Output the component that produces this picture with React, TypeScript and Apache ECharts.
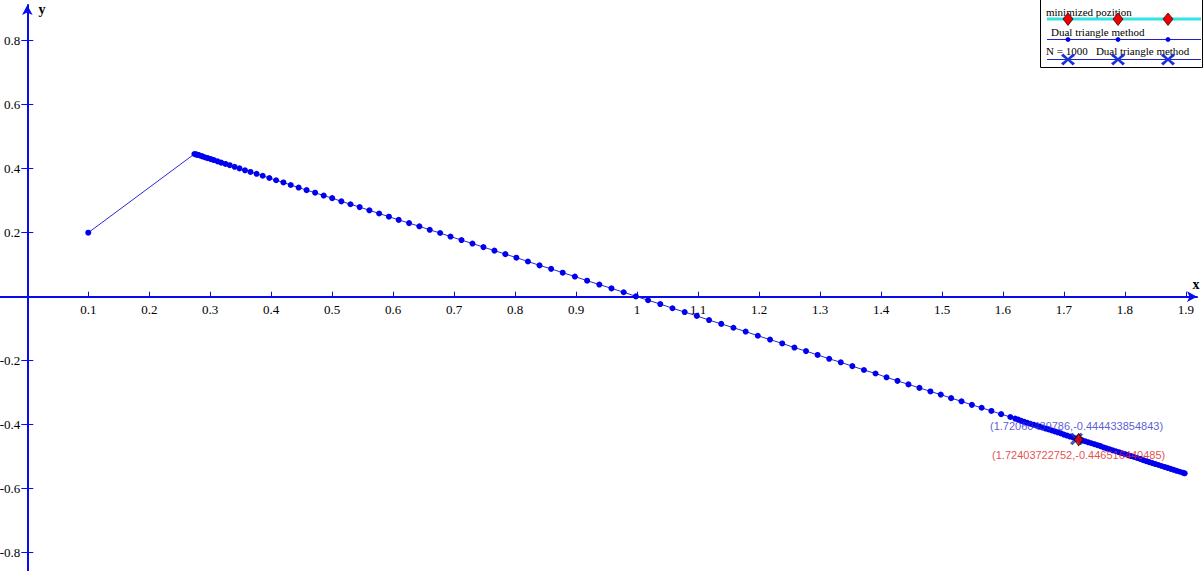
import React, { useEffect, useRef } from "react";
import * as echarts from "echarts";

// ---- data ----
const xTickValues = [0.1, 0.2, 0.3, 0.4, 0.5, 0.6, 0.7, 0.8, 0.9, 1, 1.1, 1.2, 1.3, 1.4, 1.5, 1.6, 1.7, 1.8, 1.9];
const yTickValues = [-0.8, -0.6, -0.4, -0.2, 0.2, 0.4, 0.6, 0.8];

const dualName = "Dual triangle method";
const dualPoints: [number, number][] = [
  [0.1, 0.2],
  [0.274, 0.446], [0.276, 0.445], [0.278, 0.444], [0.28, 0.443], [0.282, 0.442], [0.285, 0.44], [0.288, 0.438],
  [0.292, 0.435], [0.296, 0.433], [0.301, 0.43], [0.306, 0.427], [0.312, 0.423], [0.318, 0.419], [0.325, 0.415],
  [0.332, 0.411], [0.34, 0.406], [0.348, 0.401], [0.357, 0.395], [0.366, 0.39], [0.376, 0.384], [0.386, 0.378],
  [0.397, 0.371], [0.408, 0.364], [0.42, 0.357], [0.432, 0.349], [0.445, 0.341], [0.458, 0.333], [0.472, 0.325],
  [0.486, 0.316], [0.5, 0.308], [0.515, 0.298], [0.53, 0.289], [0.545, 0.28], [0.561, 0.27], [0.577, 0.26],
  [0.593, 0.25], [0.609, 0.24], [0.626, 0.23], [0.643, 0.22], [0.66, 0.209], [0.677, 0.199], [0.694, 0.188],
  [0.712, 0.177], [0.73, 0.166], [0.748, 0.155], [0.766, 0.144], [0.784, 0.133], [0.802, 0.122], [0.821, 0.11],
  [0.84, 0.098], [0.859, 0.087], [0.878, 0.075], [0.898, 0.063], [0.918, 0.05], [0.938, 0.038], [0.958, 0.026],
  [0.978, 0.014], [0.998, 0.001], [1.018, -0.011], [1.038, -0.023], [1.058, -0.036], [1.078, -0.048],
  [1.098, -0.06], [1.118, -0.073], [1.138, -0.085], [1.158, -0.097], [1.178, -0.109], [1.198, -0.122],
  [1.218, -0.134], [1.238, -0.146], [1.258, -0.159], [1.277, -0.17], [1.296, -0.182], [1.315, -0.194],
  [1.334, -0.205], [1.353, -0.217], [1.372, -0.229], [1.391, -0.24], [1.409, -0.252], [1.427, -0.263],
  [1.445, -0.274], [1.463, -0.285], [1.481, -0.296], [1.498, -0.306], [1.515, -0.317], [1.532, -0.327],
  [1.549, -0.338], [1.565, -0.347], [1.581, -0.357], [1.597, -0.367], [1.612, -0.376],
  [1.62, -0.381], [1.625, -0.384], [1.63, -0.388], [1.635, -0.391], [1.64, -0.394], [1.645, -0.397],
  [1.65, -0.4], [1.655, -0.403], [1.66, -0.406], [1.665, -0.409], [1.67, -0.412], [1.675, -0.415],
  [1.68, -0.418], [1.685, -0.421], [1.69, -0.424], [1.695, -0.427], [1.7, -0.431], [1.705, -0.434],
  [1.71, -0.437], [1.715, -0.44], [1.72, -0.443], [1.725, -0.446], [1.73, -0.449], [1.735, -0.452],
  [1.74, -0.455], [1.745, -0.458], [1.75, -0.461], [1.755, -0.464], [1.76, -0.467], [1.765, -0.471],
  [1.77, -0.474], [1.775, -0.477], [1.78, -0.48], [1.785, -0.483], [1.79, -0.486], [1.795, -0.489],
  [1.8, -0.492], [1.805, -0.495], [1.81, -0.498], [1.815, -0.501], [1.82, -0.504], [1.825, -0.507],
  [1.83, -0.511], [1.835, -0.514], [1.84, -0.517], [1.845, -0.52], [1.85, -0.523], [1.855, -0.526],
  [1.86, -0.529], [1.865, -0.532], [1.87, -0.535], [1.875, -0.538], [1.88, -0.541], [1.885, -0.544],
  [1.89, -0.547], [1.895, -0.55], [1.898, -0.552],
];

const minName = "minimized pozition";
const minPoint: [number, number] = [1.72403722752, -0.446516440485];

const nName = "N = 1000   Dual triangle method";
const nPoint: [number, number] = [1.72060439786, -0.444433854843];

// ---- styling / layout ----
const AXIS_BLUE = "#0a0af0";
const SERIES_BLUE = "#0000ee";
const X_MIN = -0.04477;
const X_MAX = 1.91817;
const Y_MIN = -0.8572;
const Y_MAX = 0.9116;
const GRID_TOP = 5;
const GRID_RIGHT = 6;
const CHART_W = 1203;
const CHART_H = 571;
const PLOT_H = CHART_H - GRID_TOP;
const PLOT_W = CHART_W - GRID_RIGHT;
// offsets that bring the axes onto the other axis' zero
const X_AXIS_OFFSET = -((0 - Y_MIN) / (Y_MAX - Y_MIN)) * PLOT_H;
const Y_AXIS_OFFSET = -((0 - X_MIN) / (X_MAX - X_MIN)) * PLOT_W;

const X_SYMBOL = "path://M0,1.5L1.5,0L5,3.5L8.5,0L10,1.5L6.5,5L10,8.5L8.5,10L5,6.5L1.5,10L0,8.5L3.5,5Z";

function xShape(cx: number, cy: number, w: number, h: number, t: number) {
  const hw = w / 2, hh = h / 2;
  return [
    [cx - hw, cy - hh + t], [cx - hw + t, cy - hh], [cx, cy - t * 0.7],
    [cx + hw - t, cy - hh], [cx + hw, cy - hh + t], [cx + t * 0.8, cy],
    [cx + hw, cy + hh - t], [cx + hw - t, cy + hh], [cx, cy + t * 0.7],
    [cx - hw + t, cy + hh], [cx - hw, cy + hh - t], [cx - t * 0.8, cy],
  ];
}

export default function App() {
  const ref = useRef<HTMLDivElement>(null);

  useEffect(() => {
    document.body.style.margin = "0";
    const chart = echarts.init(ref.current!, undefined, { renderer: "svg" });
    const serif = "Liberation Serif";
    const markerXs = [1068, 1118, 1168];

    const legendGraphics: any[] = [
      { type: "rect", shape: { x: 1040.5, y: -0.5, width: 162, height: 68 }, style: { fill: "#fff", stroke: "#000", lineWidth: 1 }, z: 10 },
      { type: "text", x: 1046, y: 12, style: { text: minName, fontFamily: serif, fontSize: 11, fill: "#000", verticalAlign: "middle" }, z: 11 },
      { type: "line", shape: { x1: 1047, y1: 19, x2: 1201, y2: 19 }, style: { stroke: "#30e4e4", lineWidth: 3 }, z: 11 },
      ...markerXs.map((mx) => ({
        type: "polygon", shape: { points: [[mx, 13], [mx + 5, 19], [mx, 25.5], [mx - 5, 19]] },
        style: { fill: "#f00000", stroke: "#400000", lineWidth: 0.8 }, z: 12,
      })),
      { type: "text", x: 1051, y: 32, style: { text: dualName, fontFamily: serif, fontSize: 11, fill: "#000", verticalAlign: "middle" }, z: 11 },
      { type: "line", shape: { x1: 1047, y1: 39.5, x2: 1201, y2: 39.5 }, style: { stroke: "#2020c8", lineWidth: 1.2 }, z: 11 },
      ...markerXs.map((mx) => ({
        type: "circle", shape: { cx: mx, cy: 39.5, r: 2.4 }, style: { fill: SERIES_BLUE }, z: 12,
      })),
      { type: "text", x: 1046, y: 51, style: { text: nName, fontFamily: serif, fontSize: 11, fill: "#000", verticalAlign: "middle" }, z: 11 },
      { type: "line", shape: { x1: 1047, y1: 59.5, x2: 1201, y2: 59.5 }, style: { stroke: "#2020c8", lineWidth: 1.2 }, z: 11 },
      ...markerXs.map((mx) => ({
        type: "polygon", shape: { points: xShape(mx, 59.5, 14, 12, 2.2) }, style: { fill: "#1a30d8" }, z: 12,
      })),
    ];

    const axisNames: any[] = [
      { type: "text", x: 1196, y: 284, style: { text: "x", fontFamily: serif, fontSize: 14, fontWeight: "bold", fill: "#000", align: "center", verticalAlign: "middle" } },
      { type: "text", x: 42, y: 9, style: { text: "y", fontFamily: serif, fontSize: 14, fontWeight: "bold", fill: "#000", align: "center", verticalAlign: "middle" } },
    ];

    const option: any = {
      animation: false,
      backgroundColor: "#fff",
      grid: { left: 0, right: GRID_RIGHT, top: GRID_TOP, bottom: 0, containLabel: false, outerBoundsMode: "none" },
      xAxis: [
        {
          type: "value", min: X_MIN, max: X_MAX, position: "bottom", offset: X_AXIS_OFFSET,
          axisLine: { show: true, onZero: false, lineStyle: { color: AXIS_BLUE, width: 2 }, symbol: ["none", "arrow"], symbolSize: [8, 10] },
          axisTick: { show: true, inside: true, length: 5, customValues: xTickValues, lineStyle: { color: AXIS_BLUE, width: 1 } },
          axisLabel: { show: true, customValues: xTickValues, color: "#000", fontFamily: serif, fontSize: 13, margin: 6, hideOverlap: false },
          splitLine: { show: false },
        },
      ],
      yAxis: [
        {
          type: "value", min: Y_MIN, max: Y_MAX, position: "left", offset: Y_AXIS_OFFSET,
          axisLine: { show: true, onZero: false, lineStyle: { color: AXIS_BLUE, width: 2 }, symbol: ["none", "arrow"], symbolSize: [8, 10] },
          axisTick: { show: true, inside: false, length: 6, customValues: yTickValues, lineStyle: { color: AXIS_BLUE, width: 1 } },
          axisLabel: { show: true, customValues: yTickValues, color: "#000", fontFamily: serif, fontSize: 13, margin: 7, hideOverlap: false },
          splitLine: { show: false },
        },
        {
          type: "value", min: Y_MIN, max: Y_MAX, position: "left", offset: Y_AXIS_OFFSET,
          axisLine: { show: false, onZero: false },
          axisTick: { show: true, inside: true, length: 6, customValues: yTickValues, lineStyle: { color: AXIS_BLUE, width: 1 } },
          axisLabel: { show: false },
          splitLine: { show: false },
        },
      ],
      series: [
        {
          name: dualName, type: "line", data: dualPoints,
          symbol: "circle", symbolSize: 6, showSymbol: true, showAllSymbol: true,
          itemStyle: { color: SERIES_BLUE },
          lineStyle: { color: "#2828d8", width: 1 },
          z: 2,
        },
        {
          name: nName, type: "scatter", data: [nPoint],
          symbol: X_SYMBOL, symbolSize: 12,
          itemStyle: { color: "#1a30d8", borderColor: "#101040", borderWidth: 0.6 },
          label: {
            show: true, position: "top", distance: 1,
            formatter: () => `(${nPoint[0]},${nPoint[1]})`,
            color: "#3030cc", fontFamily: "Liberation Sans", fontSize: 11,
          },
          z: 3,
        },
        {
          name: minName, type: "scatter", data: [minPoint],
          symbol: "diamond", symbolSize: [9, 12],
          itemStyle: { color: "#f00000", borderColor: "#000", borderWidth: 1 },
          label: {
            show: true, position: "bottom", distance: 3,
            formatter: () => `(${minPoint[0]},${minPoint[1]})`,
            color: "#e02020", fontFamily: "Liberation Sans", fontSize: 11,
          },
          z: 4,
        },
      ],
      graphic: [...axisNames, ...legendGraphics],
    };

    chart.setOption(option);
    return () => chart.dispose();
  }, []);

  return <div ref={ref} style={{ position: "absolute", left: 0, top: 0, width: CHART_W, height: CHART_H }} />;
}
